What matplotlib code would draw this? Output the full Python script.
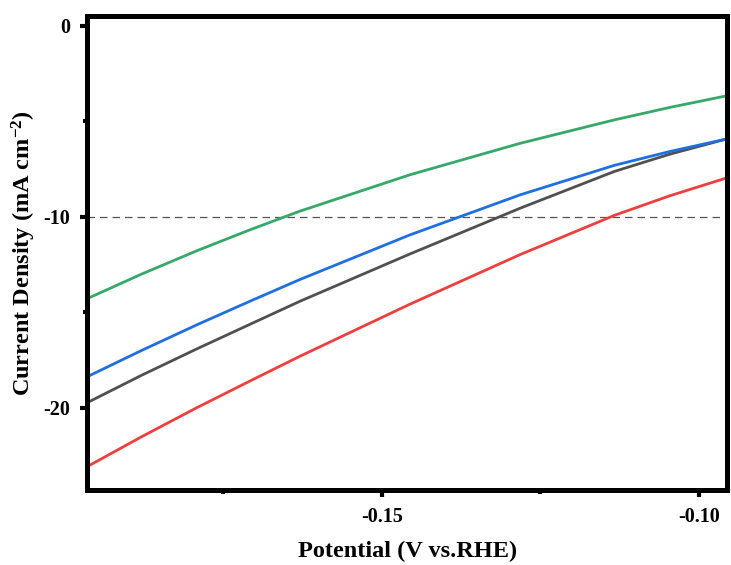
import matplotlib.pyplot as plt
from matplotlib.ticker import MultipleLocator

plt.rcParams['font.family'] = ['Liberation Serif', 'DejaVu Serif']
plt.rcParams['font.weight'] = 'bold'
plt.rcParams['mathtext.fontset'] = 'custom'
plt.rcParams['mathtext.rm'] = 'Liberation Serif:bold'
plt.rcParams['mathtext.default'] = 'rm'

# LSV polarization curves (potential in V vs. RHE, current density in mA cm-2)
potential = [-0.1965, -0.1879, -0.1792, -0.1708, -0.1629, -0.1456, -0.1282, -0.1133, -0.1046, -0.0956]
j_green = [-14.29, -13.00, -11.78, -10.68, -9.70, -7.80, -6.15, -4.92, -4.27, -3.66]
j_blue = [-18.38, -17.00, -15.66, -14.42, -13.28, -10.95, -8.85, -7.30, -6.58, -5.92]
j_gray = [-19.74, -18.30, -16.92, -15.63, -14.42, -11.95, -9.55, -7.62, -6.72, -5.92]
j_red = [-23.09, -21.52, -20.00, -18.60, -17.30, -14.58, -11.98, -9.92, -8.90, -7.96]

ref_current = -10

fig = plt.figure(figsize=(7.31, 5.65), dpi=100)
ax = fig.add_axes([0.119, 0.133, 0.876, 0.838])

ax.axhline(ref_current, color='#555555', lw=0.9, ls=(0, (6, 4)), zorder=1)

ax.plot(potential, j_green, color='#35a86a', lw=2.0)
ax.plot(potential, j_gray, color='#505050', lw=2.0)
ax.plot(potential, j_blue, color='#1f6fe0', lw=2.0)
ax.plot(potential, j_red, color='#ee3f3f', lw=2.0)

ax.set_xlim(-0.1965, -0.0955)
ax.set_ylim(-24.3, 0.5)

ax.xaxis.set_major_locator(MultipleLocator(0.05))
ax.xaxis.set_minor_locator(MultipleLocator(0.025))
ax.yaxis.set_major_locator(MultipleLocator(10))
ax.yaxis.set_minor_locator(MultipleLocator(5))
ax.xaxis.set_major_formatter(plt.FuncFormatter(lambda v, p: f'{v:.2f}'))
ax.yaxis.set_major_formatter(plt.FuncFormatter(lambda v, p: f'{v:.0f}'))

for s in ax.spines.values():
    s.set_linewidth(3.6)
ax.tick_params(which='major', direction='out', length=5, width=3, labelsize=14.5, pad=7)
ax.tick_params(which='minor', direction='out', length=3, width=3)
for lab in ax.get_xticklabels() + ax.get_yticklabels():
    lab.set_fontweight('bold')

ax.set_xlabel('Potential (V vs.RHE)', fontsize=17.5, fontweight='bold', labelpad=10)
ax.set_ylabel('Current Density (mA cm$^{-2}$)', fontsize=17.5, fontweight='bold', labelpad=4)

fig.savefig('out.png', dpi=100)
